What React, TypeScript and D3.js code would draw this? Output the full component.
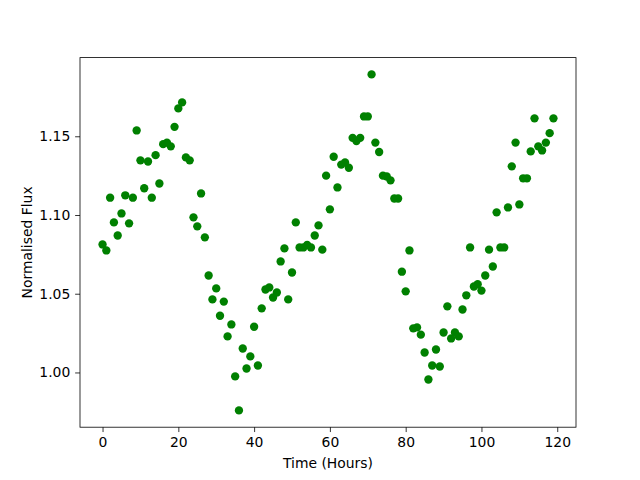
import React, { useRef, useEffect } from 'react';
import * as d3 from 'd3';

// Hours 0..119, one reading per hour
const fluxValues: number[] = [
  1.0813, 1.0775, 1.111, 1.0953, 1.087, 1.101, 1.1125, 1.0947, 1.111, 1.1537,
  1.1347, 1.117, 1.134, 1.111, 1.138, 1.12, 1.145, 1.146, 1.1436, 1.156,
  1.1677, 1.1715, 1.1366, 1.1347, 1.0985, 1.0928, 1.1137, 1.0858, 1.0616, 1.0464,
  1.0534, 1.036, 1.045, 1.0229, 1.0305, 0.9975, 0.9759, 1.0152, 1.0025, 1.0102,
  1.029, 1.0044, 1.0407, 1.0527, 1.054, 1.0476, 1.0508, 1.0705, 1.0788, 1.0464,
  1.0635, 1.0953, 1.0794, 1.0794, 1.081, 1.0794, 1.087, 1.0934, 1.078, 1.125,
  1.1036, 1.137, 1.1175, 1.132, 1.1334, 1.13, 1.149, 1.147, 1.149, 1.1626,
  1.1626, 1.1893, 1.146, 1.14, 1.125, 1.1245, 1.122, 1.1105, 1.1105, 1.064,
  1.0515, 1.0775, 1.028, 1.0286, 1.024, 1.0127, 0.9955, 1.0044, 1.0146, 1.0038,
  1.0254, 1.042, 1.0216, 1.0254, 1.0229, 1.04, 1.049, 1.0794, 1.0546, 1.056,
  1.052, 1.0616, 1.078, 1.0673, 1.1017, 1.0794, 1.0794, 1.1048, 1.1309, 1.146,
  1.1067, 1.1233, 1.1233, 1.1404, 1.1614, 1.1436, 1.141, 1.146, 1.152, 1.1614,
];
const hours: number[] = fluxValues.map((_, i) => i);

const xTicks = [0, 20, 40, 60, 80, 100, 120];
const yTicks = [1.0, 1.05, 1.1, 1.15];

const xLabel = 'Time (Hours)';
const yLabel = 'Normalised Flux';

const App: React.FC = () => {
  const svgRef = useRef<SVGSVGElement>(null);
  const width = 640;
  const height = 480;

  useEffect(() => {
    if (!svgRef.current) return;
    const svg = d3.select(svgRef.current);
    svg.selectAll('*').remove();

    const margin = { top: 57.6, right: 64, bottom: 52.8, left: 80 };
    const innerWidth = width - margin.left - margin.right;
    const innerHeight = height - margin.top - margin.bottom;

    // matplotlib style 5% padding around the data
    const xMin = d3.min(hours) || 0;
    const xMax = d3.max(hours) || 0;
    const xPad = (xMax - xMin) * 0.05;
    const yMin = d3.min(fluxValues) || 0;
    const yMax = d3.max(fluxValues) || 0;
    const yPad = (yMax - yMin) * 0.05;

    const xScale = d3
      .scaleLinear()
      .domain([xMin - xPad, xMax + xPad])
      .range([0, innerWidth]);

    const yScale = d3
      .scaleLinear()
      .domain([yMin - yPad, yMax + yPad])
      .range([innerHeight, 0]);

    const g = svg
      .append('g')
      .attr('transform', `translate(${margin.left},${margin.top})`);

    const font = 'DejaVu Sans, sans-serif';

    // Points
    g.selectAll('circle')
      .data(fluxValues)
      .enter()
      .append('circle')
      .attr('cx', (_, i) => xScale(hours[i]))
      .attr('cy', (d) => yScale(d))
      .attr('r', 4.17)
      .attr('fill', '#008000');

    // Axes
    const xAxis = g
      .append('g')
      .attr('transform', `translate(0,${innerHeight})`)
      .call(
        d3
          .axisBottom(xScale)
          .tickValues(xTicks)
          .tickSize(4.86)
          .tickPadding(4.86)
          .tickFormat(d3.format('d'))
      );

    const yAxis = g.append('g').call(
      d3
        .axisLeft(yScale)
        .tickValues(yTicks)
        .tickSize(4.86)
        .tickPadding(4.86)
        .tickFormat(d3.format('.2f'))
    );

    [xAxis, yAxis].forEach((ax) => {
      ax.select('.domain').remove();
      ax.selectAll('line').attr('stroke', '#000').attr('stroke-width', 0.8);
      ax.selectAll('text')
        .attr('font-family', font)
        .attr('font-size', '13.9px')
        .attr('fill', '#000');
    });

    // Frame
    g.append('rect')
      .attr('x', 0)
      .attr('y', 0)
      .attr('width', innerWidth)
      .attr('height', innerHeight)
      .attr('fill', 'none')
      .attr('stroke', '#000')
      .attr('stroke-width', 0.8);

    // Axis labels
    g.append('text')
      .attr('x', innerWidth / 2)
      .attr('y', innerHeight + 41)
      .attr('text-anchor', 'middle')
      .attr('font-family', font)
      .attr('font-size', '13.9px')
      .text(xLabel);

    g.append('text')
      .attr('transform', 'rotate(-90)')
      .attr('x', -innerHeight / 2)
      .attr('y', -48)
      .attr('text-anchor', 'middle')
      .attr('font-family', font)
      .attr('font-size', '13.9px')
      .text(yLabel);
  }, []);

  return (
    <svg
      ref={svgRef}
      width={width}
      height={height}
      style={{ position: 'absolute', left: 0, top: 0, background: '#fff' }}
    />
  );
};

export default App;
